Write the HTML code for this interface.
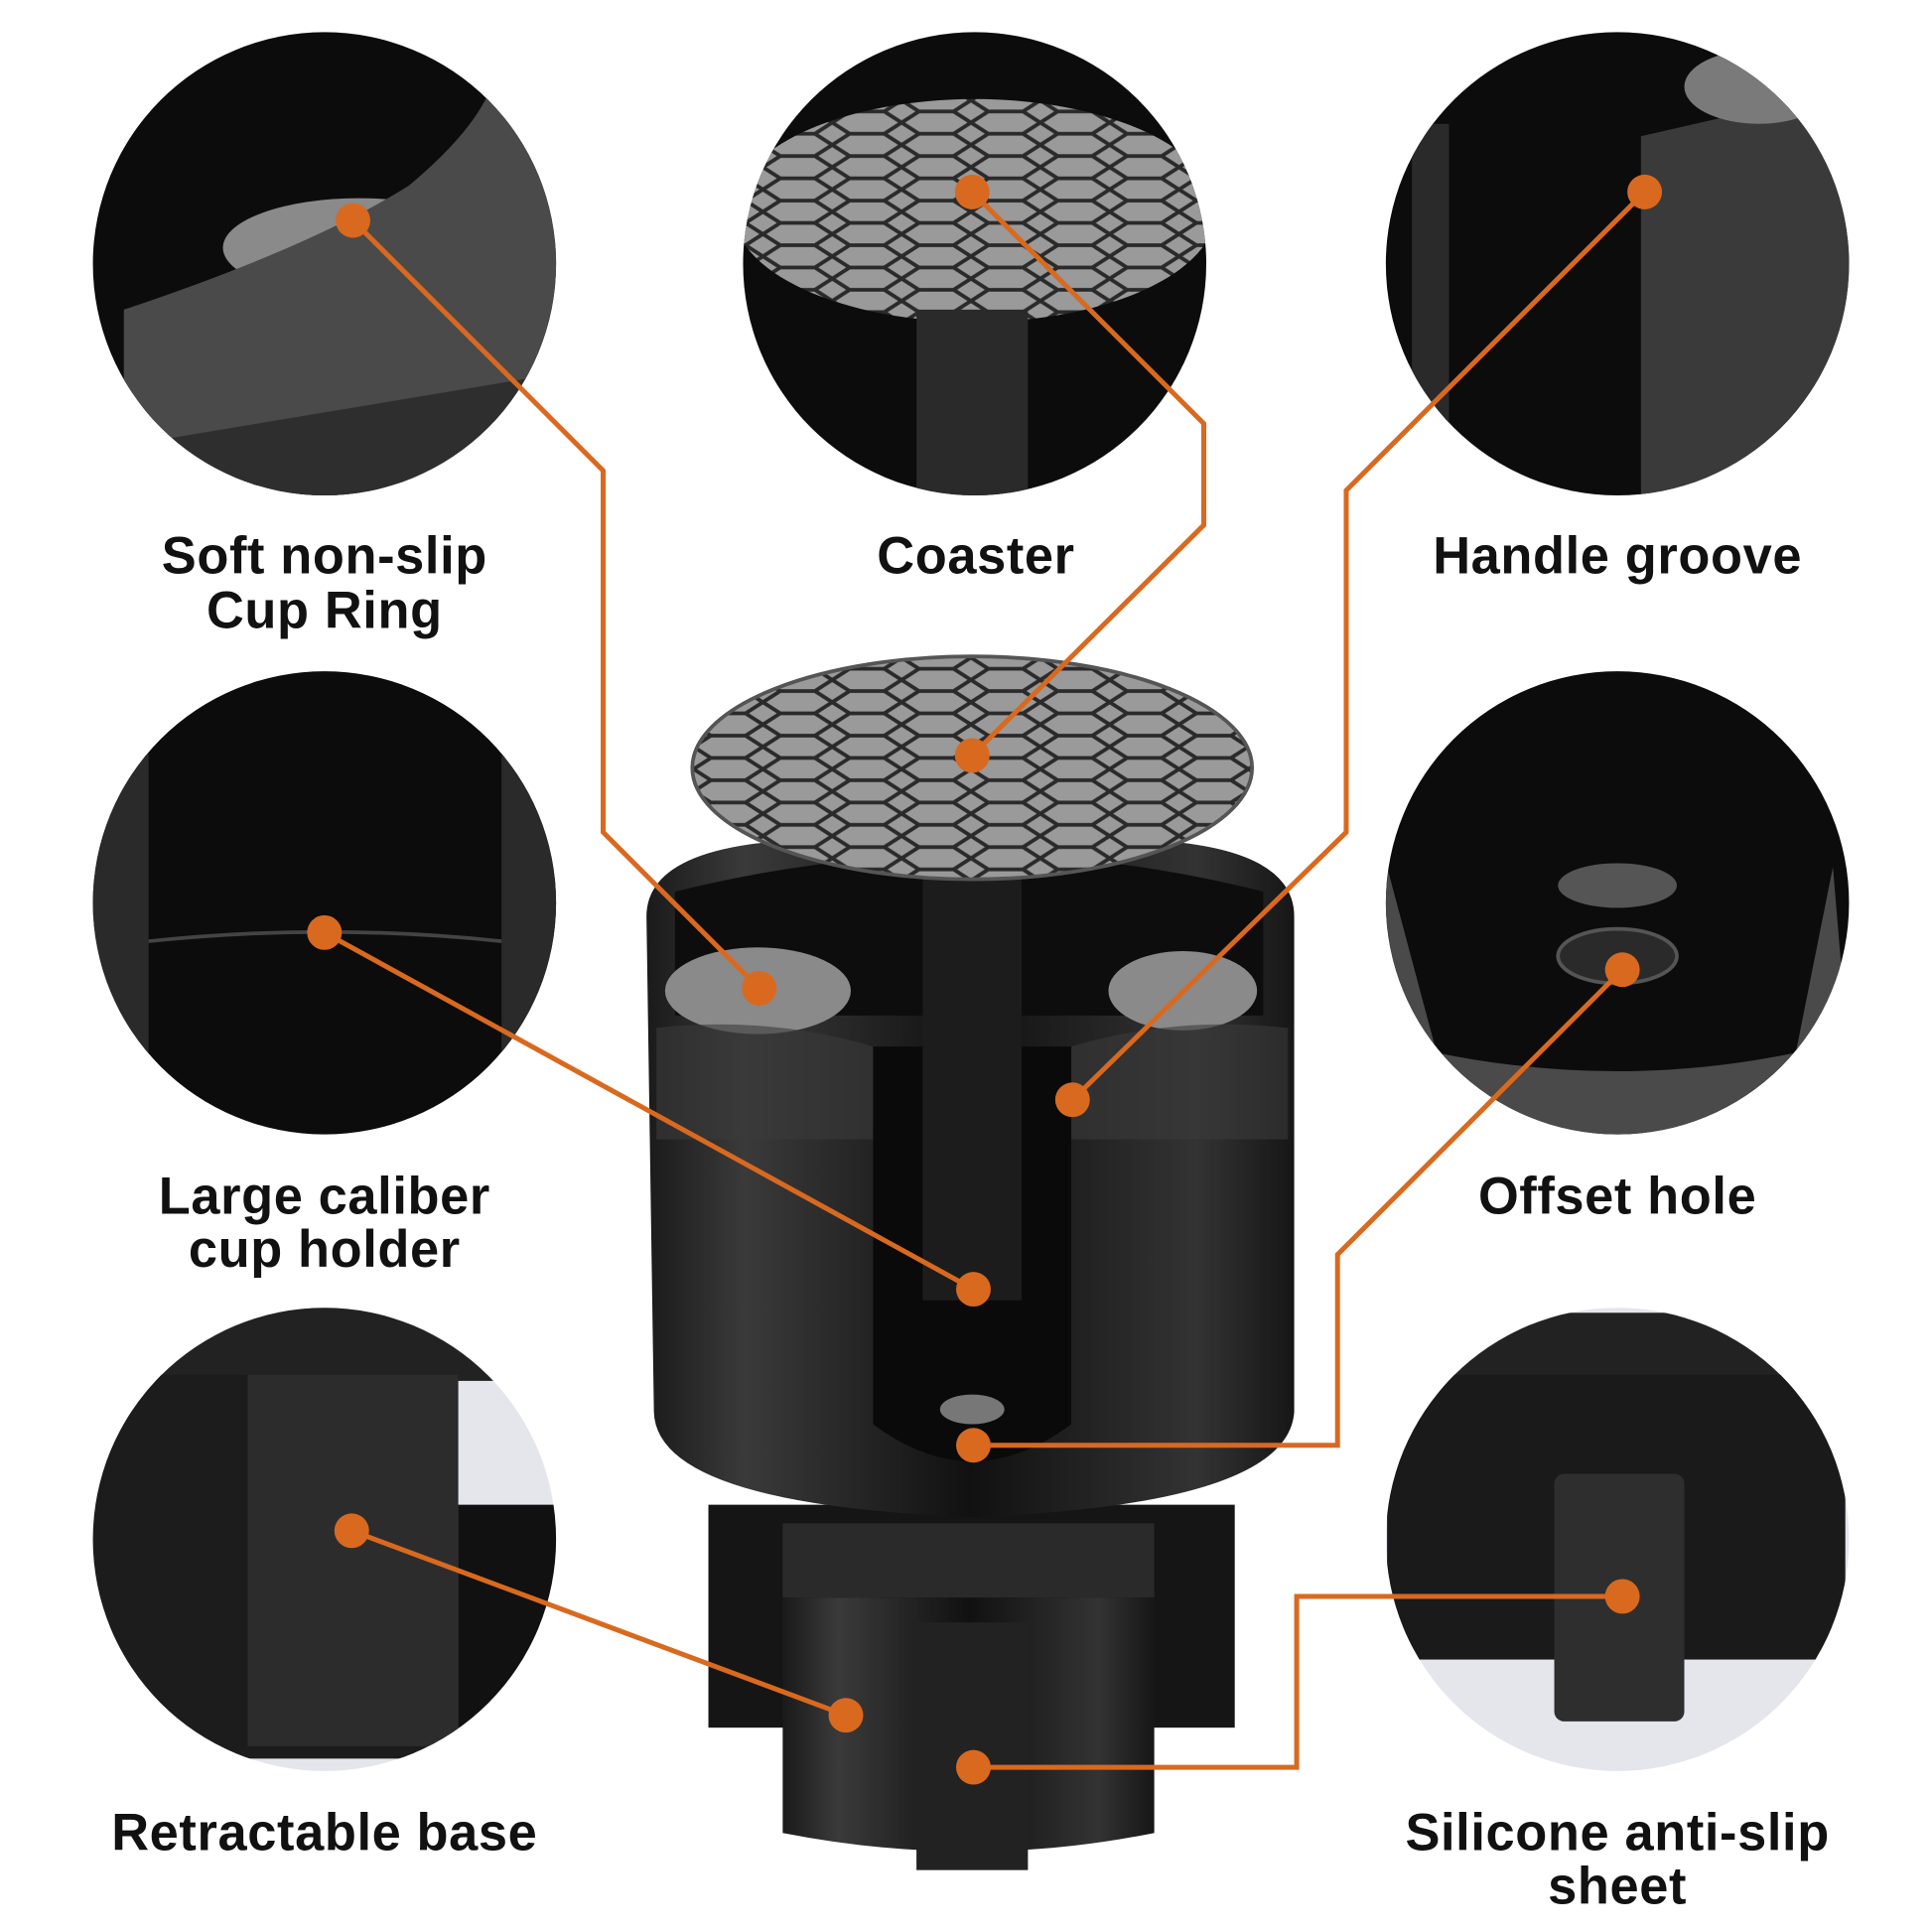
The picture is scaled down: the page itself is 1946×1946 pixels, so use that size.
<!DOCTYPE html>
<html><head><meta charset="utf-8"><style>
html,body{margin:0;padding:0;background:#fff}
svg{display:block}
text{font-family:"Liberation Sans",sans-serif;font-weight:bold;fill:#111;font-size:42px;text-anchor:middle;letter-spacing:0.5px}
</style></head><body>
<svg width="1946" height="1946" viewBox="0 0 1560 1560" xmlns="http://www.w3.org/2000/svg">
<defs>
<pattern id="hex" width="56" height="36" patternUnits="userSpaceOnUse">
<rect width="56" height="36" fill="#9a9a9a"/>
<path d="M0 9 L14 0 L42 0 L56 9 M0 9 L14 18 L42 18 L56 9 M14 18 L0 27 L14 36 M42 18 L56 27 L42 36 M14 36 L42 36" stroke="#2a2a2a" stroke-width="3" fill="none"/>
</pattern>
<linearGradient id="body" x1="0" x2="1">
<stop offset="0" stop-color="#1a1a1a"/><stop offset="0.15" stop-color="#3a3a3a"/><stop offset="0.5" stop-color="#111"/><stop offset="0.85" stop-color="#333"/><stop offset="1" stop-color="#161616"/>
</linearGradient>
<clipPath id="c1"><circle cx="262" cy="213" r="187"/></clipPath>
<clipPath id="c2"><circle cx="787" cy="213" r="187"/></clipPath>
<clipPath id="c3"><circle cx="1306" cy="213" r="187"/></clipPath>
<clipPath id="c4"><circle cx="262" cy="729" r="187"/></clipPath>
<clipPath id="c5"><circle cx="1306" cy="729" r="187"/></clipPath>
<clipPath id="c6"><circle cx="262" cy="1243" r="187"/></clipPath>
<clipPath id="c7"><circle cx="1306" cy="1243" r="187"/></clipPath>
</defs>
<rect width="1560" height="1560" fill="#fff"/>

<g clip-path="url(#c1)"><rect x="70" y="20" width="400" height="400" fill="#0c0c0c"/>
<ellipse cx="290" cy="200" rx="110" ry="40" fill="#8a8a8a"/>
<path d="M100 250 Q250 200 330 150 Q390 100 400 60 L460 100 L460 420 L100 420Z" fill="#4a4a4a"/>
<path d="M100 360 L460 300 L460 420 L100 420Z" fill="#2e2e2e"/></g>
<g clip-path="url(#c2)"><rect x="590" y="20" width="400" height="400" fill="#0c0c0c"/>
<ellipse cx="787" cy="170" rx="195" ry="90" fill="url(#hex)"/>
<rect x="740" y="250" width="90" height="160" fill="#2a2a2a"/></g>
<g clip-path="url(#c3)"><rect x="1110" y="20" width="400" height="400" fill="#0c0c0c"/>
<path d="M1325 110 L1500 70 L1500 420 L1325 420Z" fill="#3a3a3a"/>
<rect x="1140" y="100" width="30" height="320" fill="#2a2a2a"/>
<ellipse cx="1420" cy="70" rx="60" ry="30" fill="#7a7a7a"/></g>
<g clip-path="url(#c4)"><rect x="70" y="540" width="400" height="400" fill="#0c0c0c"/>
<rect x="75" y="540" width="45" height="400" fill="#2a2a2a"/><rect x="405" y="540" width="50" height="400" fill="#2a2a2a"/>
<path d="M120 760 Q262 745 405 760" stroke="#444" stroke-width="3" fill="none"/></g>
<g clip-path="url(#c5)"><rect x="1110" y="540" width="400" height="400" fill="#0c0c0c"/>
<path d="M1120 700 L1160 850 Q1306 880 1450 850 L1480 700 L1500 940 L1110 940Z" fill="#4a4a4a"/>
<ellipse cx="1306" cy="715" rx="48" ry="18" fill="#555"/>
<ellipse cx="1306" cy="772" rx="48" ry="22" fill="#2a2a2a" stroke="#555" stroke-width="3"/></g>
<g clip-path="url(#c6)"><rect x="70" y="1055" width="400" height="400" fill="#e4e6ec"/>
<rect x="70" y="1055" width="400" height="60" fill="#222"/>
<rect x="70" y="1110" width="300" height="310" fill="#1c1c1c"/>
<rect x="200" y="1110" width="170" height="300" fill="#2c2c2c"/>
<rect x="370" y="1215" width="100" height="190" fill="#111"/></g>
<g clip-path="url(#c7)"><rect x="1110" y="1055" width="400" height="400" fill="#e4e6ec"/>
<rect x="1110" y="1060" width="400" height="60" fill="#222"/>
<rect x="1120" y="1110" width="370" height="230" fill="#1a1a1a"/>
<rect x="1255" y="1190" width="105" height="200" rx="8" fill="#2e2e2e"/></g>

<rect x="572" y="1215" width="425" height="180" fill="#151515"/>
<rect x="632" y="1230" width="300" height="60" fill="#2a2a2a"/>
<path d="M632 1290 L632 1480 Q785 1510 932 1480 L932 1290Z" fill="url(#body)"/>
<rect x="740" y="1310" width="90" height="200" fill="#222"/>
<path d="M522 740 Q522 690 620 680 L950 680 Q1045 690 1045 740 L1045 1140 Q1040 1215 785 1225 Q530 1215 528 1140Z" fill="url(#body)"/>
<path d="M545 720 Q785 660 1020 720 L1020 820 L545 820Z" fill="#0d0d0d"/>
<ellipse cx="612" cy="800" rx="75" ry="35" fill="#8a8a8a"/>
<ellipse cx="955" cy="800" rx="60" ry="32" fill="#8a8a8a"/>
<path d="M530 830 Q620 820 705 845 L705 1150 Q785 1210 865 1150 L865 845 Q950 820 1040 830 L1040 920 L530 920Z" fill="#3a3a3a" opacity="0.6"/>
<path d="M705 845 L705 1150 Q785 1210 865 1150 L865 845Z" fill="#0a0a0a"/>
<rect x="745" y="700" width="80" height="350" fill="#1c1c1c"/>
<ellipse cx="785" cy="1138" rx="26" ry="12" fill="#777"/>
<ellipse cx="785" cy="620" rx="226" ry="90" fill="url(#hex)" stroke="#555" stroke-width="3"/>

<g stroke="#d9691f" stroke-width="4" fill="none">
<polyline points="285,178 487,380 487,672 613,798"/>
<polyline points="785,155 972,342 972,424 785,610"/>
<polyline points="1328,155 1087,396 1087,672 866,888"/>
<polyline points="262,753 786,1041"/>
<polyline points="1310,783 1080,1013 1080,1167 786,1167"/>
<polyline points="284,1236 683,1385"/>
<polyline points="1310,1289 1047,1289 1047,1427 786,1427"/>
</g>
<g fill="#d9691f">
<circle cx="285" cy="178" r="14"/><circle cx="613" cy="798" r="14"/>
<circle cx="785" cy="155" r="14"/><circle cx="785" cy="610" r="14"/>
<circle cx="1328" cy="155" r="14"/><circle cx="866" cy="888" r="14"/>
<circle cx="262" cy="753" r="14"/><circle cx="786" cy="1041" r="14"/>
<circle cx="1310" cy="783" r="14"/><circle cx="786" cy="1167" r="14"/>
<circle cx="284" cy="1236" r="14"/><circle cx="683" cy="1385" r="14"/>
<circle cx="1310" cy="1289" r="14"/><circle cx="786" cy="1427" r="14"/>
</g>

<text x="262" y="463">Soft non-slip</text>
<text x="262" y="507">Cup Ring</text>
<text x="788" y="463">Coaster</text>
<text x="1306" y="463">Handle groove</text>
<text x="262" y="980">Large caliber</text>
<text x="262" y="1023">cup holder</text>
<text x="1306" y="980">Offset hole</text>
<text x="262" y="1494">Retractable base</text>
<text x="1306" y="1494">Silicone anti-slip</text>
<text x="1306" y="1537">sheet</text>
</svg>
</body></html>
